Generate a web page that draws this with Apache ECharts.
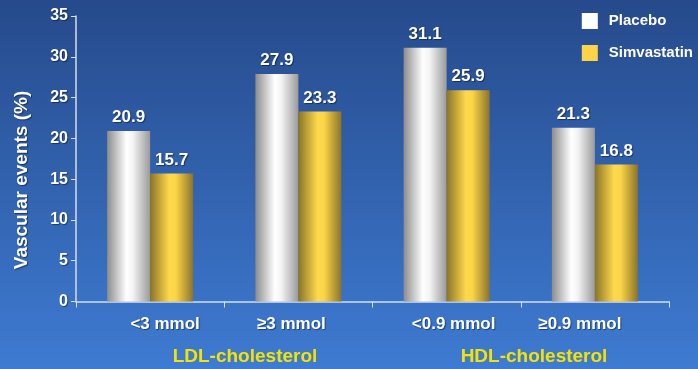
<!DOCTYPE html>
<html><head><meta charset="utf-8">
<style>html,body{margin:0;padding:0;}#c{width:698px;height:369px;}</style>
<script src="https://cdn.jsdelivr.net/npm/echarts@6/dist/echarts.min.js"></script>
</head><body><div id="c"></div>
<script>
const categories = ['<3 mmol', '\u22653 mmol', '<0.9 mmol', '\u22650.9 mmol'];
const groups = ['LDL-cholesterol', 'HDL-cholesterol'];
const placebo = [20.9, 27.9, 31.1, 21.3];
const simvastatin = [15.7, 23.3, 25.9, 16.8];
const seriesNames = ['Placebo', 'Simvastatin'];
const yTicks = [0, 5, 10, 15, 20, 25, 30, 35];

// layout constant: horizontal nudge of each category label (px)
const LABEL_SHIFT = [15, -7, 7, -15];
const FONT = 'Liberation Sans, Arial, sans-serif';
const shadow = {textShadowColor: 'rgba(0,0,0,0.45)', textShadowBlur: 1, textShadowOffsetX: 1, textShadowOffsetY: 1};
const labelRich = {};
LABEL_SHIFT.forEach((d, i) => {
  labelRich['c' + i] = {color: '#ffffff', fontWeight: 'bold', fontSize: 17, fontFamily: FONT, ...shadow,
    padding: d >= 0 ? [0, 0, 0, 2 * d] : [0, -2 * d, 0, 0]};
});

const grayGrad = new echarts.graphic.LinearGradient(0, 0, 1, 0, [
  {offset: 0, color: '#8c8c8c'}, {offset: 0.45, color: '#ffffff'},
  {offset: 0.6, color: '#f4f4f4'}, {offset: 1, color: '#9a9a9a'}]);
const goldGrad = new echarts.graphic.LinearGradient(0, 0, 1, 0, [
  {offset: 0, color: '#8a7428'}, {offset: 0.45, color: '#ffd94c'},
  {offset: 0.6, color: '#fbd447'}, {offset: 1, color: '#8a742c'}]);

const valueLabel = {show: true, position: 'top', distance: 5, color: '#ffffff', fontWeight: 'bold', fontSize: 17,
  fontFamily: FONT, ...shadow, formatter: p => p.value.toFixed(1)};

const chart = echarts.init(document.getElementById('c'));
chart.setOption({
  backgroundColor: new echarts.graphic.LinearGradient(0, 0, 0, 1, [
    {offset: 0, color: '#264a8b'}, {offset: 1, color: '#3e7bd2'}]),
  animation: false,
  textStyle: {fontFamily: FONT},
  legend: {
    right: 0, top: 8, orient: 'vertical', itemWidth: 16, itemHeight: 16, itemGap: 16,
    icon: 'rect', align: 'left',
    textStyle: {color: '#ffffff', fontWeight: 'bold', fontSize: 15, fontFamily: FONT, padding: [0, 0, 0, 6]},
    data: [{name: seriesNames[0], itemStyle: {color: '#ffffff'}},
           {name: seriesNames[1], itemStyle: {color: '#fdd447'}}]
  },
  grid: {left: 76, right: 29, top: 16, bottom: 67.5},
  xAxis: {type: 'category', data: categories, boundaryGap: true,
    axisLine: {lineStyle: {color: '#d5deee', width: 1.5}},
    axisTick: {show: true, length: 6, lineStyle: {color: '#d5deee'}},
    axisLabel: {margin: 14, formatter: (v, i) => '{c' + i + '|' + v + '}', rich: labelRich}},
  yAxis: {type: 'value', min: 0, max: 35, interval: 5,
    axisLine: {show: true, lineStyle: {color: '#d5deee', width: 1.5}},
    axisTick: {show: true, length: 5, lineStyle: {color: '#d5deee'}},
    splitLine: {show: false},
    axisLabel: {color: '#ffffff', fontWeight: 'bold', fontSize: 16, fontFamily: FONT, margin: 8, ...shadow,
      formatter: v => yTicks.includes(v) ? String(v) : ''}},
  series: [
    {name: seriesNames[0], type: 'bar', data: placebo, barWidth: 43, barGap: '0%',
     itemStyle: {color: grayGrad}, label: valueLabel},
    {name: seriesNames[1], type: 'bar', data: simvastatin, barWidth: 43, barGap: '0%',
     itemStyle: {color: goldGrad}, label: valueLabel}
  ],
  graphic: [
    {type: 'text', x: 22, y: 180, rotation: Math.PI / 2,
     style: {text: 'Vascular events (%)', fill: '#ffffff', font: 'bold 19px ' + FONT, textAlign: 'center', textVerticalAlign: 'middle', ...shadow}},
    {type: 'text', x: 245, y: 357,
     style: {text: groups[0], fill: '#f2e205', font: 'bold 19px ' + FONT, textAlign: 'center', textVerticalAlign: 'middle'}},
    {type: 'text', x: 534, y: 357,
     style: {text: groups[1], fill: '#f2e205', font: 'bold 19px ' + FONT, textAlign: 'center', textVerticalAlign: 'middle'}}
  ]
});
</script></body></html>
